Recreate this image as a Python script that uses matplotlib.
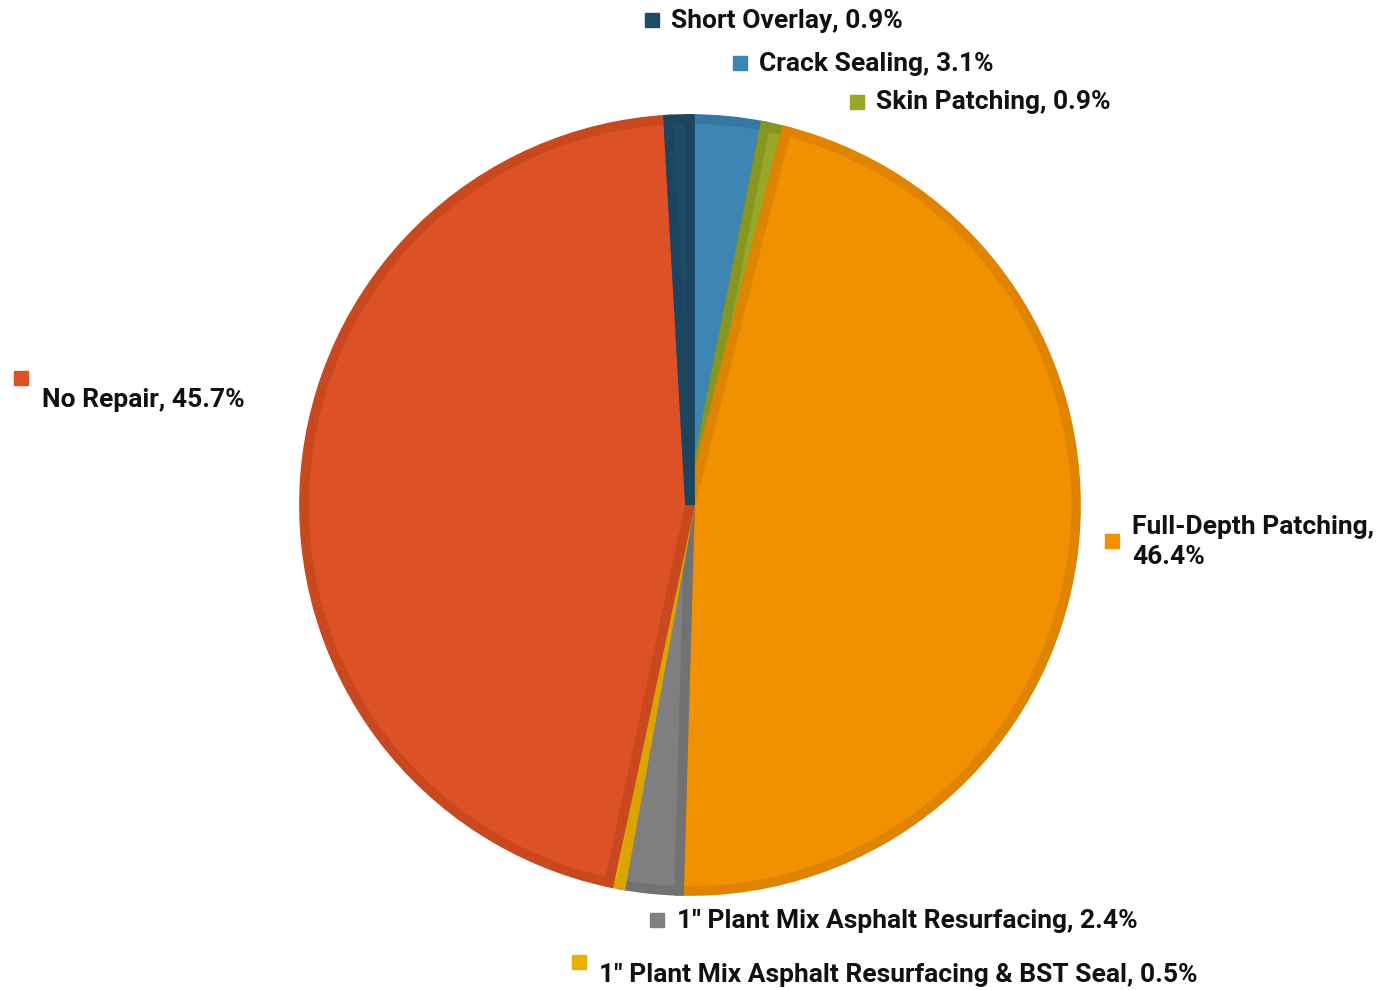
import matplotlib
matplotlib.use("Agg")
import matplotlib.pyplot as plt

# Repair categories, clockwise from 12 o'clock
categories = [
    "Crack Sealing",
    "Skin Patching",
    "Full-Depth Patching",
    "1'' Plant Mix Asphalt Resurfacing",
    '1" Plant Mix Asphalt Resurfacing & BST Seal',
    "No Repair",
    "Short Overlay",
]
shares = [3.1, 0.9, 46.4, 2.4, 0.5, 45.7, 0.9]
fill_colors = ["#3D86B4", "#98A826", "#F29100", "#7F7F7F", "#E8B000", "#DC5226", "#1F4B66"]
edge_colors = ["#3478A3", "#879620", "#DE8400", "#727272", "#D9A400", "#C9481F", "#1C465F"]

W, H = 1378, 990
fig = plt.figure(figsize=(W / 100, H / 100), dpi=100)
ax = fig.add_axes([0, 0, 1, 1])

cx, cy, r = 690, H - 505, 386
wedges, _ = ax.pie(
    shares,
    colors=fill_colors,
    startangle=90,
    counterclock=False,
    center=(cx, cy),
    radius=r,
    frame=True,
)
for w, ec in zip(wedges, edge_colors):
    w.set_edgecolor(ec)
    w.set_linewidth(7)
    w.set_joinstyle("miter")
ax.set_xlim(0, W)
ax.set_ylim(0, H)
ax.set_aspect("equal")
ax.axis("off")

font = ["Roboto", "DejaVu Sans"]
fs = 19

# label anchor positions: (marker x, marker y, text x, text y, text)
label_pos = {
    "Short Overlay": (652, 20, 671, 21, "Short Overlay, 0.9%"),
    "Crack Sealing": (740, 63, 759, 64, "Crack Sealing, 3.1%"),
    "Skin Patching": (857, 102, 876, 102, "Skin Patching, 0.9%"),
    "No Repair": (21, 378, 42, 400, "No Repair, 45.7%"),
    "Full-Depth Patching": (1112, 541, 1132, 542, "Full-Depth Patching,\n46.4%"),
    "1'' Plant Mix Asphalt Resurfacing": (657, 920, 677, 921, "1'' Plant Mix Asphalt Resurfacing, 2.4%"),
    '1" Plant Mix Asphalt Resurfacing & BST Seal': (579, 962, 599, 975, '1" Plant Mix Asphalt Resurfacing & BST Seal, 0.5%'),
}
for cat, col, val in zip(categories, fill_colors, shares):
    mx, my, tx, ty, txt = label_pos[cat]
    ax.plot([mx], [H - my], marker="s", markersize=10, color=col, linestyle="none")
    ax.text(tx, H - ty, txt, fontsize=fs, fontweight="bold", family=font,
            ha="left", va="center", color="#111111", linespacing=1.32)

fig.savefig("out.png", dpi=100, facecolor="white")
